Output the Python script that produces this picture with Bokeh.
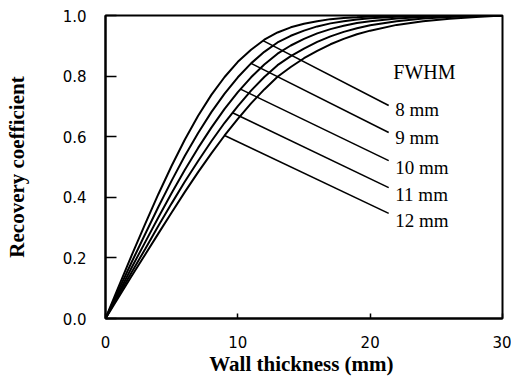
from bokeh.plotting import figure
from bokeh.models import Range1d, FixedTicker, PrintfTickFormatter, ColumnDataSource
from bokeh.core.properties import value
from bokeh.embed import file_html
from bokeh.resources import INLINE

# Wall thickness (mm)
thickness = [0, 1, 2, 3, 4, 5, 6, 7, 8, 9, 10, 11, 12, 13, 14, 15, 16, 17, 18, 19, 20, 22, 24, 26, 28, 30]

# Recovery coefficient for each FWHM
rc_8mm = [0.0, 0.106, 0.211, 0.312, 0.411, 0.504, 0.591, 0.669, 0.738, 0.797, 0.847, 0.887, 0.920, 0.944, 0.961,
          0.973, 0.981, 0.988, 0.992, 0.994, 0.997, 0.999, 1.0, 1.0, 1.0, 1.0]
rc_9mm = [0.0, 0.095, 0.188, 0.279, 0.369, 0.455, 0.537, 0.612, 0.681, 0.742, 0.796, 0.842, 0.880, 0.911, 0.933,
          0.950, 0.964, 0.974, 0.981, 0.987, 0.991, 0.996, 0.998, 0.999, 1.0, 1.0]
rc_10mm = [0.0, 0.085, 0.170, 0.252, 0.334, 0.414, 0.491, 0.563, 0.630, 0.692, 0.747, 0.796, 0.838, 0.874, 0.901,
           0.923, 0.941, 0.955, 0.966, 0.975, 0.981, 0.990, 0.995, 0.998, 0.999, 1.0]
rc_11mm = [0.0, 0.078, 0.154, 0.229, 0.306, 0.380, 0.452, 0.520, 0.585, 0.646, 0.701, 0.752, 0.797, 0.836, 0.866,
           0.891, 0.913, 0.931, 0.946, 0.958, 0.968, 0.981, 0.990, 0.995, 0.998, 1.0]
rc_12mm = [0.0, 0.071, 0.142, 0.211, 0.281, 0.350, 0.418, 0.483, 0.545, 0.604, 0.659, 0.710, 0.756, 0.798, 0.830,
           0.859, 0.883, 0.905, 0.923, 0.938, 0.950, 0.969, 0.981, 0.989, 0.995, 1.0]

curves = [rc_8mm, rc_9mm, rc_10mm, rc_11mm, rc_12mm]

# Labels and leader lines
fwhm_labels = ["8 mm", "9 mm", "10 mm", "11 mm", "12 mm"]
leader_x0 = [11.9, 11.0, 10.2, 9.6, 9.0]
leader_y0 = [0.917, 0.842, 0.757, 0.679, 0.604]
leader_x1 = [21.4, 21.4, 21.4, 21.4, 21.4]
leader_y1 = [0.703, 0.614, 0.521, 0.432, 0.347]
label_x = [21.9, 21.9, 21.9, 21.9, 21.9]
label_y = [0.690, 0.597, 0.498, 0.409, 0.323]
legend_title = "FWHM"
legend_title_x = 21.75
legend_title_y = 0.812

x_ticks = [0, 10, 20, 30]
y_ticks = [0.0, 0.2, 0.4, 0.6, 0.8, 1.0]

p = figure(width=511, height=382, output_backend="svg", toolbar_location=None,
           x_range=Range1d(0, 30), y_range=Range1d(0, 1.0),
           min_border_left=105, min_border_right=9, min_border_top=15, min_border_bottom=64)

p.background_fill_color = "white"
p.border_fill_color = "white"
p.grid.visible = False
p.outline_line_color = "black"
p.outline_line_width = 2

for rc in curves:
    p.line(thickness, rc, line_color="black", line_width=2)

p.segment(x0=leader_x0, y0=leader_y0, x1=leader_x1, y1=leader_y1, line_color="black", line_width=1.6)

src = ColumnDataSource(dict(x=label_x, y=label_y, t=fwhm_labels))
p.text(x="x", y="y", text="t", source=src, text_font=value("Liberation Serif"),
       text_font_size="19px", text_align="left", text_baseline="middle", text_color="black")
p.text(x=[legend_title_x], y=[legend_title_y], text=[legend_title], text_font=value("Liberation Serif"),
       text_font_size="20px", text_align="left", text_baseline="middle", text_color="black")

# Axes
p.xaxis.ticker = FixedTicker(ticks=x_ticks)
p.yaxis.ticker = FixedTicker(ticks=y_ticks)
p.yaxis.formatter = PrintfTickFormatter(format="%.1f")
p.xaxis.formatter = PrintfTickFormatter(format="%d")
for ax in (p.xaxis, p.yaxis):
    ax.axis_line_color = "black"
    ax.axis_line_width = 2
    ax.major_tick_line_color = "black"
    ax.major_tick_line_width = 1.5
    ax.minor_tick_line_color = None
    ax.major_tick_out = 0
    ax.major_label_text_font = "DejaVu Sans"
    ax.major_label_text_font_size = "15px"
    ax.major_label_text_color = "black"
    ax.axis_label_text_font = "Liberation Serif"
    ax.axis_label_text_font_style = "bold"
    ax.axis_label_text_font_size = "21px"
    ax.axis_label_text_color = "black"

p.yaxis.major_tick_in = 11
p.xaxis.major_tick_in = 5
p.yaxis.major_label_standoff = 19
p.xaxis.major_label_standoff = 17
p.yaxis.axis_label = "Recovery coefficient"
p.xaxis.axis_label = "Wall  thickness (mm)"
p.yaxis.axis_label_standoff = 31
p.xaxis.axis_label_standoff = 1

open("out.html", "w").write(file_html(p, INLINE))
